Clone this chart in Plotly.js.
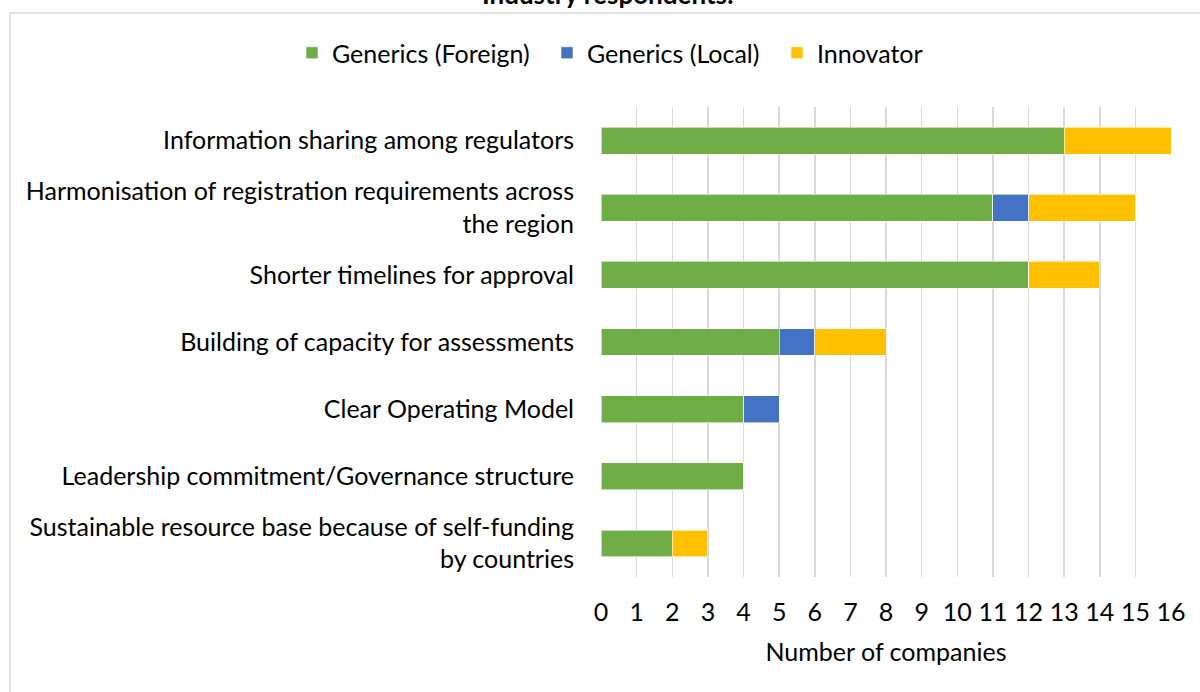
<!DOCTYPE html>
<html>
<head>
<meta charset="utf-8">
<script src="https://cdn.plot.ly/plotly-3.0.1.min.js"></script>
<style>html,body{margin:0;padding:0;background:#fff;}#chart{width:1200px;height:692px;}</style>
</head>
<body>
<div id="chart"></div>
<script>
const categories = [
  "Information sharing among regulators",
  "Harmonisation of registration requirements across<br>the region",
  "Shorter timelines for approval",
  "Building of capacity for assessments",
  "Clear Operating Model",
  "Leadership commitment/Governance structure",
  "Sustainable resource base because of self-funding<br>by countries"
];
const genericsForeign = [13, 11, 12, 5, 4, 4, 2];
const genericsLocal   = [0, 1, 0, 1, 1, 0, 0];
const innovator       = [3, 3, 2, 2, 0, 0, 1];
const xTicks = [0,1,2,3,4,5,6,7,8,9,10,11,12,13,14,15,16];

const FONT = "Lato, 'Open Sans', sans-serif";
const FS = 25;
const mk = (name, vals, color, leg) => ({
  type: 'bar', orientation: 'h', name: name, x: vals, y: categories, legend: leg,
  marker: {color: color, line: {color: 'rgba(255,255,255,0.6)', width: 1}},
  hoverinfo: 'x+name'
});
const data = [
  mk('Generics (Foreign)', genericsForeign, '#70AD47', 'legend'),
  mk('Generics (Local)', genericsLocal, '#4472C4', 'legend2'),
  mk('Innovator', innovator, '#FFC000', 'legend3')
];
const W = 570, H = 470, L = 601, T = 107;
const px = x => (x - L) / W;
const py = y => (T + H - y) / H;
const legendAt = xpix => ({orientation: 'h', x: px(xpix), xanchor: 'left', y: py(53), yanchor: 'middle',
  font: {family: FONT, size: FS, color: '#000'}, itemwidth: 30, bgcolor: 'rgba(0,0,0,0)'});
const layout = {
  width: 1200, height: 692,
  margin: {l: 601, r: 29, t: 107, b: 115},
  paper_bgcolor: '#fff', plot_bgcolor: '#fff',
  barmode: 'stack', bargap: 0.6,
  font: {family: FONT, size: FS, color: '#000'},
  showlegend: true,
  legend: legendAt(292),
  legend2: legendAt(547),
  legend3: legendAt(777),
  xaxis: {range: [0, 16], tickvals: xTicks, showgrid: true, gridcolor: '#d9d9d9', gridwidth: 1.5,
          zeroline: false, showline: false, ticks: '', fixedrange: true, ticklabelstandoff: 18,
          tickfont: {family: FONT, size: FS, color: '#000'},
          title: {text: 'Number of companies', font: {family: FONT, size: FS, color: '#000'}, standoff: 18}},
  yaxis: {categoryorder: 'array', categoryarray: categories, autorange: 'reversed',
          showgrid: false, zeroline: false, showline: false, ticks: '', ticklabelstandoff: 26,
          tickfont: {family: FONT, size: FS, color: '#000'}},
  shapes: [
    {type: 'rect', xref: 'paper', yref: 'paper', x0: px(10), x1: px(1215), y0: py(13), y1: py(700),
     line: {color: '#d9d9d9', width: 1.5}, fillcolor: 'rgba(0,0,0,0)', layer: 'below'}
  ],
  annotations: [
    {text: '<b>Industry respondents:</b>', xref: 'paper', yref: 'paper', x: px(608), y: py(-6),
     xanchor: 'center', yanchor: 'middle', showarrow: false,
     font: {family: FONT, size: 26, color: '#000'}}
  ]
};
Plotly.newPlot('chart', data, layout, {displayModeBar: false, staticPlot: true});
</script>
</body>
</html>
